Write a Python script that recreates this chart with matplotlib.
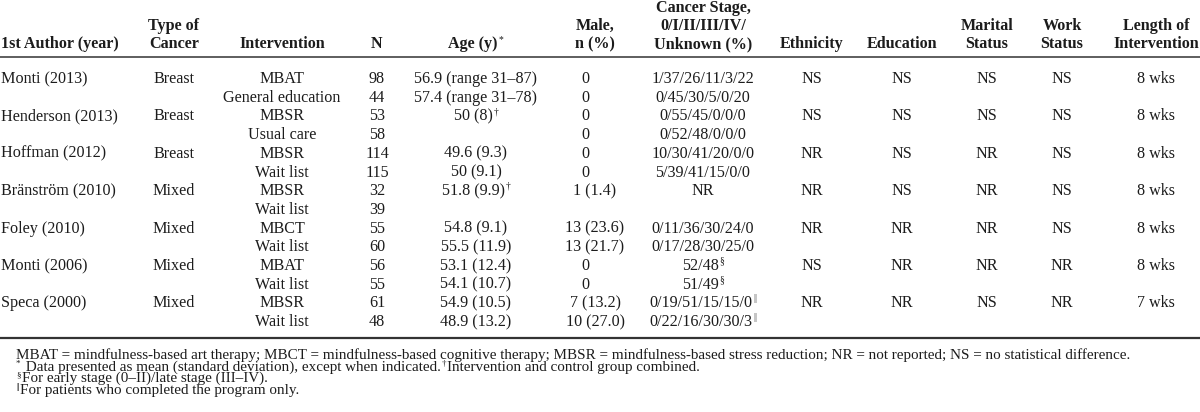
import matplotlib
matplotlib.use("Agg")
import matplotlib.pyplot as plt

# study level columns
authors = ["Monti (2013)", "Henderson (2013)", "Hoffman (2012)", "Bränström (2010)",
           "Foley (2010)", "Monti (2006)", "Speca (2000)"]
cancer_type = ["Breast", "Breast", "Breast", "Mixed", "Mixed", "Mixed", "Mixed"]
ethnicity = ["NS", "NS", "NR", "NR", "NR", "NS", "NR"]
education = ["NS", "NS", "NS", "NS", "NR", "NR", "NR"]
marital = ["NS", "NS", "NR", "NR", "NR", "NR", "NS"]
work = ["NS", "NS", "NS", "NS", "NS", "NR", "NR"]
length = ["8 wks", "8 wks", "8 wks", "8 wks", "8 wks", "8 wks", "7 wks"]

# arm level columns (two arms per study)
intervention = ["MBAT", "General education", "MBSR", "Usual care", "MBSR", "Wait list",
                "MBSR", "Wait list", "MBCT", "Wait list", "MBAT", "Wait list",
                "MBSR", "Wait list"]
n_arm = [98, 44, 53, 58, 114, 115, 32, 39, 55, 60, 56, 55, 61, 48]
age = ["56.9 (range 31–87)", "57.4 (range 31–78)", "50 (8)†", "", "49.6 (9.3)",
       "50 (9.1)", "51.8 (9.9)†", "", "54.8 (9.1)", "55.5 (11.9)", "53.1 (12.4)",
       "54.1 (10.7)", "54.9 (10.5)", "48.9 (13.2)"]
male = ["0", "0", "0", "0", "0", "0", "1 (1.4)", "", "13 (23.6)", "13 (21.7)",
        "0", "0", "7 (13.2)", "10 (27.0)"]
stage = ["1/37/26/11/3/22", "0/45/30/5/0/20", "0/55/45/0/0/0", "0/52/48/0/0/0",
         "10/30/41/20/0/0", "5/39/41/15/0/0", "NR", "", "0/11/36/30/24/0",
         "0/17/28/30/25/0", "52/48§", "51/49§", "0/19/51/15/15/0‖", "0/22/16/30/30/3‖"]

headers = [["1st Author (year)"], ["Type of", "Cancer"], ["Intervention"], ["N"],
           ["Age (y)*"], ["Male,", "n (%)"], ["Cancer Stage,", "0/I/II/III/IV/", "Unknown (%)"],
           ["Ethnicity"], ["Education"], ["Marital", "Status"], ["Work", "Status"],
           ["Length of", "Intervention"]]

footnotes = [
    "MBAT = mindfulness-based art therapy; MBCT = mindfulness-based cognitive therapy; "
    "MBSR = mindfulness-based stress reduction; NR = not reported; NS = no statistical difference.",
    "*| Data presented as mean (standard deviation), except when indicated.|†|Intervention and control group combined.",
    "§|For early stage (0–II)/late stage (III–IV).",
    "‖|For patients who completed the program only.",
]

FONT = "Liberation Serif"
INK = "#1c1c1c"
BODY = 11.6
FOOT = 10.9
SUPS = "*†§‖"

col_x = [1, 174, 282, 377, 476, 595, 703, 812, 902, 987, 1062, 1156]
row0, pitch = 83, 18.7
head_base = [12, 30, 48]

fig = plt.figure(figsize=(12, 4.12), dpi=100)
ax = fig.add_axes([0, 0, 1, 1])
ax.set_xlim(0, 1200)
ax.set_ylim(412, 0)
ax.axis("off")
renderer = fig.canvas.get_renderer()


def width(t):
    return t.get_window_extent(renderer).width


def put(x, y, s, ha="center", size=BODY, weight="normal"):
    if s == "":
        return
    sup = ""
    if s[-1] in SUPS:
        s, sup = s[:-1], s[-1]
    t = ax.text(x, y, s, ha="left", va="baseline", fontsize=size,
                fontweight=weight, family=FONT, color=INK)
    w = width(t)
    if sup:
        sup = "||" if sup == "‖" else sup
        st = ax.text(0, y - size * 0.55, sup, ha="left", va="baseline",
                     fontsize=size * 0.6, family=FONT, color=INK)
        w2 = width(st) + 1
    else:
        w2 = 0
    x0 = x - (w + w2) / 2 if ha == "center" else x
    t.set_x(x0)
    if sup:
        st.set_x(x0 + w + 1)


# header
for c, lines in enumerate(headers):
    base = head_base[3 - len(lines):]
    for line, y in zip(lines, base):
        put(col_x[c], y, line, ha="left" if c == 0 else "center", weight="bold")

ax.plot([0, 1200], [57, 57], color="#333333", lw=1.1, solid_capstyle="butt")

# body
for i in range(len(intervention)):
    y = row0 + i * pitch
    if i % 2 == 0:
        s = i // 2
        put(col_x[0], y, authors[s], ha="left")
        put(col_x[1], y, cancer_type[s])
        put(col_x[7], y, ethnicity[s])
        put(col_x[8], y, education[s])
        put(col_x[9], y, marital[s])
        put(col_x[10], y, work[s])
        put(col_x[11], y, length[s])
    put(col_x[2], y, intervention[i])
    put(col_x[3], y, str(n_arm[i]))
    put(col_x[4], y, age[i])
    put(col_x[5] - (10 if male[i] == "0" else 0), y, male[i])
    put(col_x[6], y, stage[i])

ax.plot([0, 1200], [338, 338], color="#333333", lw=1.6, solid_capstyle="butt")

# footnotes
foot_base = [359, 371, 382, 394]
for note, y in zip(footnotes, foot_base):
    x = 16
    for part in note.split("|"):
        if part in SUPS:
            sym = "||" if part == "‖" else part
            t = ax.text(x, y - 5, sym, ha="left", va="baseline", fontsize=FOOT * 0.6,
                        family=FONT, color=INK)
        else:
            t = ax.text(x, y, part, ha="left", va="baseline", fontsize=FOOT,
                        family=FONT, color=INK)
        x += width(t) + 1

fig.savefig("out.png", dpi=100)
